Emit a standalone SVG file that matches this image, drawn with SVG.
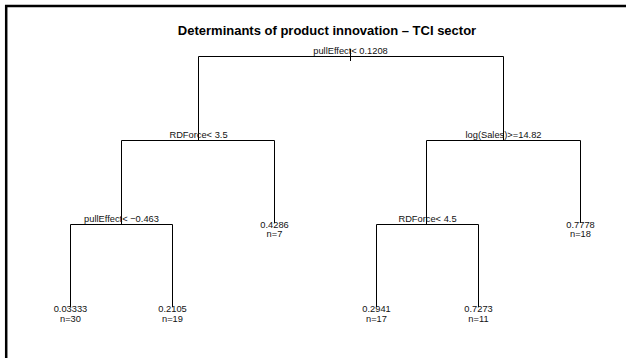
<svg xmlns="http://www.w3.org/2000/svg" width="626" height="358" viewBox="0 0 626 358">
<style>
.t{font-family:"Liberation Sans",Arial,sans-serif;font-size:9.3px;fill:#111;text-anchor:middle}
.title{font-family:"Liberation Sans",Arial,sans-serif;font-size:13px;font-weight:bold;fill:#000;text-anchor:middle}
.e{stroke:#000;stroke-width:1;fill:none}
</style>
<rect width="626" height="358" fill="#fff"/>
<path d="M6.2,360 V6 H630" fill="none" stroke="#000" stroke-width="2.5"/>
<text class="title" x="327" y="35">Determinants of product innovation – TCI sector</text>
<g id="connectors">
<path class="e" d="M350.5,49 V61"/>
<path class="e" d="M198.5,140.5 V56.5 H503.5 V140.5"/>
<path class="e" d="M121.5,224.5 V140.5 H274.5 V223"/>
<path class="e" d="M70.5,307 V224.5 H172.5 V307"/>
<path class="e" d="M426.5,224.5 V140.5 H580.5 V223"/>
<path class="e" d="M376.5,307 V224.5 H478.5 V307"/>
</g>
<g id="n1"><text class="t" x="350.5" y="54">pullEffect&lt; 0.1208</text></g>
<g id="n2"><text class="t" x="198.5" y="138.3">RDForce&lt; 3.5</text></g>
<g id="n3"><text class="t" x="503.5" y="138.3">log(Sales)&gt;=14.82</text></g>
<g id="n4"><text class="t" x="121.5" y="222">pullEffect&lt; −0.463</text></g>
<g id="n5"><text class="t" x="274.5" y="227.5">0.4286</text><text class="t" x="274.5" y="237">n=7</text></g>
<g id="n6"><text class="t" x="427.5" y="222">RDForce&lt; 4.5</text></g>
<g id="n7"><text class="t" x="580.5" y="227.5">0.7778</text><text class="t" x="580.5" y="237">n=18</text></g>
<g id="n8"><text class="t" x="70.5" y="311.7">0.03333</text><text class="t" x="70.5" y="321.7">n=30</text></g>
<g id="n9"><text class="t" x="172.5" y="311.7">0.2105</text><text class="t" x="172.5" y="321.7">n=19</text></g>
<g id="n10"><text class="t" x="376.5" y="311.7">0.2941</text><text class="t" x="376.5" y="321.7">n=17</text></g>
<g id="n11"><text class="t" x="478.5" y="311.7">0.7273</text><text class="t" x="478.5" y="321.7">n=11</text></g>
</svg>
